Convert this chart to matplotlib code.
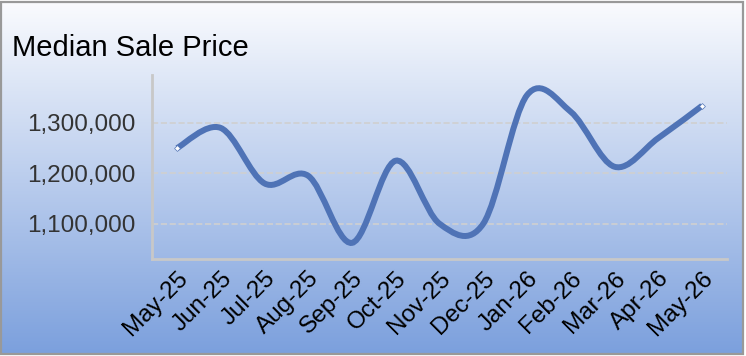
import matplotlib.pyplot as plt
import numpy as np
from matplotlib.path import Path
from matplotlib.patches import PathPatch, Rectangle

months = ['May-25', 'Jun-25', 'Jul-25', 'Aug-25', 'Sep-25', 'Oct-25', 'Nov-25',
          'Dec-25', 'Jan-26', 'Feb-26', 'Mar-26', 'Apr-26', 'May-26']
prices = [1250000, 1290000, 1180000, 1195000, 1062000, 1225000, 1100000,
          1100000, 1355000, 1322000, 1213000, 1270000, 1334000]
yticks = [1100000, 1200000, 1300000]

plt.rcParams['font.family'] = ['Liberation Sans', 'DejaVu Sans']

fig = plt.figure(figsize=(7.46, 3.56), dpi=100)

# gradient background with grey frame
bg = fig.add_axes([0, 0, 1, 1])
bg.set_axis_off()
top = np.array([250, 251, 254]) / 255
bot = np.array([124, 160, 221]) / 255
t = np.linspace(0, 1, 256)[:, None]
grad = top * (1 - t)[..., None] + bot * t[..., None]
grad = np.repeat(grad, 2, axis=1)
bg.imshow(grad, aspect='auto', extent=[2/746, 742/746, 3/356, 354/356],
          transform=bg.transAxes)
bg.set_xlim(0, 1)
bg.set_ylim(0, 1)
bg.add_patch(Rectangle((1/746, 2.5/356), 741.5/746, 352/356, transform=bg.transAxes,
                       fill=False, edgecolor='#999999', linewidth=1.6))

ax = fig.add_axes([152/746, 1 - 259/356, 575/746, 184/356])
ax.patch.set_alpha(0)

x = np.arange(len(months))
y = np.array(prices, dtype=float)

# smoothed line (Catmull-Rom style bezier, like spreadsheet smoothing)
verts = [(x[0], y[0])]
codes = [Path.MOVETO]
n = len(x)
for i in range(n - 1):
    p0 = (x[max(i - 1, 0)], y[max(i - 1, 0)])
    p1 = (x[i], y[i])
    p2 = (x[i + 1], y[i + 1])
    p3 = (x[min(i + 2, n - 1)], y[min(i + 2, n - 1)])
    c1 = (p1[0] + (p2[0] - p0[0]) / 6, p1[1] + (p2[1] - p0[1]) / 6)
    c2 = (p2[0] - (p3[0] - p1[0]) / 6, p2[1] - (p3[1] - p1[1]) / 6)
    verts += [c1, c2, p2]
    codes += [Path.CURVE4] * 3
ax.add_patch(PathPatch(Path(verts, codes), fill=False, edgecolor='#4f73b6',
                       linewidth=4.3, capstyle='butt', zorder=3))
ax.plot([x[0], x[-1]], [y[0], y[-1]], linestyle='none', marker='D', markersize=3,
        markerfacecolor='white', markeredgecolor='#4f73b6', markeredgewidth=0.5, zorder=4)

ax.set_xlim(-0.57, 12.57)
ax.set_ylim(1030000, 1395000)
ax.set_yticks(yticks)
ax.set_yticklabels([f'{v:,}' for v in yticks], fontsize=17.5, color='#333333')
ax.set_xticks(x)
ax.set_xticklabels(months, fontsize=17.5, rotation=45, ha='right',
                   rotation_mode='anchor')
ax.grid(axis='y', linestyle='--', color='#d0d0d0', linewidth=1.2)
for s in ['top', 'right']:
    ax.spines[s].set_visible(False)
for s in ['left', 'bottom']:
    ax.spines[s].set_color('#c8c8c8')
    ax.spines[s].set_linewidth(2)
ax.tick_params(axis='both', length=0, pad=6)
ax.tick_params(axis='y', pad=12)

fig.text(12/746, 1 - 56/356, 'Median Sale Price', fontsize=21, color='black')

fig.savefig('out.png', dpi=100)
